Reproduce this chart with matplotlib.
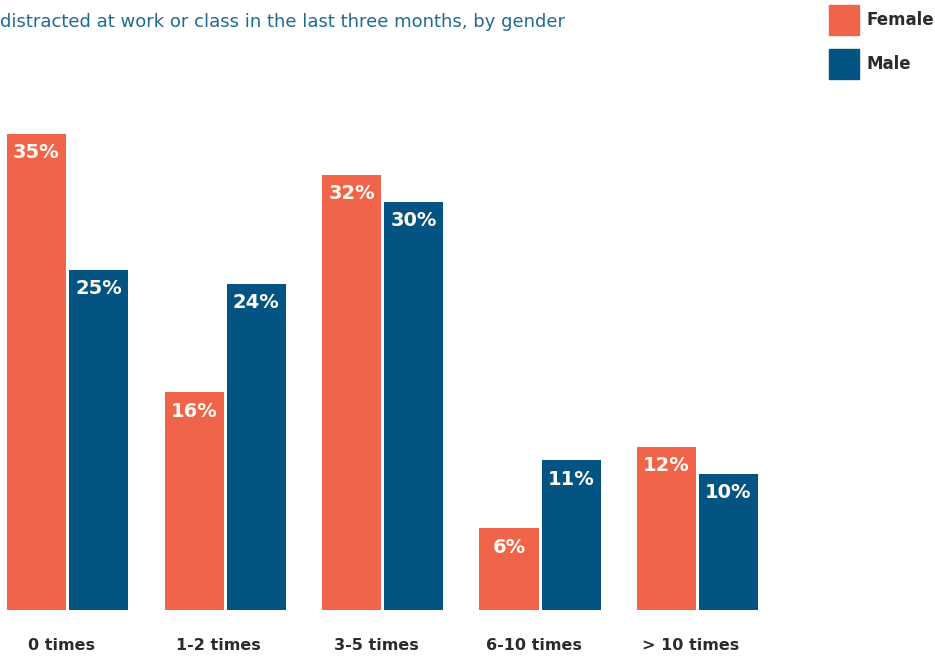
import numpy as np
import matplotlib.pyplot as plt
import matplotlib.transforms as mtransforms
from matplotlib.patches import Rectangle

# data
categories = ['0 times', '1-2 times', '3-5 times', '6-10 times', '> 10 times']
female = [35, 16, 32, 6, 12]
male = [25, 24, 30, 11, 10]
series_names = ['Female', 'Male']

female_color = '#F0644A'
male_color = '#035482'
title_color = '#1F6A93'
text_color = '#2B2B2B'

W, H = 935, 656
fig = plt.figure(figsize=(W / 100, H / 100), dpi=100)

# axes in pixel terms: baseline at y=610, 35% reaches y=134
base_px = 610
px_per_unit = (610 - 134) / 35
ymax = 40
ax = fig.add_axes([0, (H - base_px) / H, 1, ymax * px_per_unit / H])

group_px = 157.5
x0_px = 67.5
ax.set_xlim(-x0_px / group_px, (W - x0_px) / group_px)
ax.set_ylim(0, ymax)

x = np.arange(len(categories))
width = 59 / group_px
off = 31 / group_px

bf = ax.bar(x - off, female, width, color=female_color)
bm = ax.bar(x + off, male, width, color=male_color)

for bars, vals in [(bf, female), (bm, male)]:
    for b, v in zip(bars, vals):
        ax.annotate(f'{v}%', (b.get_x() + b.get_width() / 2, b.get_height()),
                    xytext=(0, -19), textcoords='offset pixels',
                    ha='center', va='center', color='#FFF9F2',
                    fontsize=14, fontweight='bold')

ax.set_xticks(x)
ax.set_xticklabels(categories, fontsize=11.5, fontweight='bold', color=text_color)
ax.tick_params(axis='x', length=0, pad=20)
# labels sit a little left of the group centre in the original
shift = mtransforms.ScaledTranslation(-6.5 / 100, 0, fig.dpi_scale_trans)
for lbl in ax.get_xticklabels():
    lbl.set_transform(lbl.get_transform() + shift)
ax.set_yticks([])
for s in ax.spines.values():
    s.set_visible(False)

fig.text(0, 1 - 22 / H,
         'distracted at work or class in the last three months, by gender',
         ha='left', va='center', fontsize=13, color=title_color)

# legend: squares with labels, top right
for i, (name, col) in enumerate(zip(series_names, [female_color, male_color])):
    top = 5 + i * 44
    fig.add_artist(Rectangle((829 / W, 1 - (top + 30) / H), 30 / W, 30 / H,
                             transform=fig.transFigure, color=col))
    fig.text(867 / W, 1 - (top + 15) / H, name, ha='left', va='center',
             fontsize=12, fontweight='bold', color=text_color)

fig.savefig('out.png', dpi=100)
